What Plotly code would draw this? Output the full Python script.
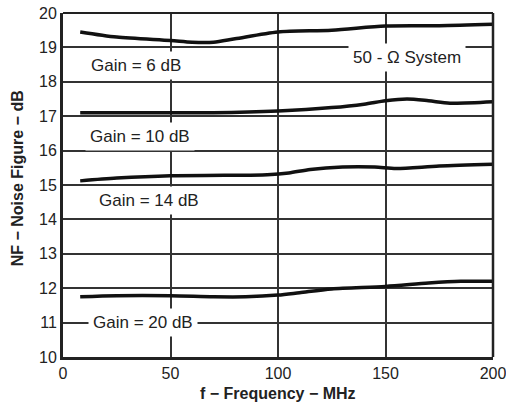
import plotly.graph_objects as go

freq_6 = [8, 25, 50, 60, 70, 80, 100, 125, 150, 175, 200]
nf_6 = [19.45, 19.3, 19.2, 19.15, 19.15, 19.25, 19.45, 19.5, 19.62, 19.63, 19.67]

freq_10 = [8, 40, 70, 100, 125, 140, 150, 160, 170, 180, 200]
nf_10 = [17.1, 17.1, 17.1, 17.15, 17.25, 17.35, 17.45, 17.5, 17.45, 17.38, 17.42]

freq_14 = [8, 25, 50, 75, 95, 105, 115, 130, 145, 155, 175, 200]
nf_14 = [15.12, 15.2, 15.27, 15.28, 15.3, 15.35, 15.45, 15.52, 15.52, 15.48, 15.55, 15.6]

freq_20 = [8, 25, 50, 70, 85, 100, 110, 125, 150, 170, 185, 200]
nf_20 = [11.75, 11.78, 11.78, 11.75, 11.75, 11.8, 11.87, 11.98, 12.05, 12.15, 12.2, 12.2]

labels = ["Gain = 6 dB", "Gain = 10 dB", "Gain = 14 dB", "Gain = 20 dB", "50 - \u03a9 System"]
label_x = [34, 36, 40, 37, 160]
label_y = [18.47, 16.42, 14.56, 11.0, 18.72]

x_ticks = [0, 50, 100, 150, 200]
y_ticks = list(range(10, 21))

x_title = "f \u2212 Frequency \u2212 MHz"
y_title = "NF \u2212 Noise Figure \u2212 dB"

font_family = "Liberation Sans, Arial, sans-serif"

fig = go.Figure()
for xs, ys in [(freq_6, nf_6), (freq_10, nf_10), (freq_14, nf_14), (freq_20, nf_20)]:
    fig.add_trace(go.Scatter(x=xs, y=ys, mode="lines",
                             line=dict(color="#111111", width=3.5, shape="spline", smoothing=0.8),
                             showlegend=False, hoverinfo="skip"))

for t, x, y in zip(labels, label_x, label_y):
    fig.add_annotation(x=x, y=y, text=t, showarrow=False, xref="x", yref="y",
                       font=dict(family=font_family, size=17, color="#222"),
                       bgcolor="white", borderpad=4)

fig.add_annotation(x=0.5, y=-0.105, xref="paper", yref="paper", text="<b>" + x_title + "</b>",
                   showarrow=False, yanchor="middle",
                   font=dict(family=font_family, size=16, color="#222"))
fig.add_annotation(x=-0.105, y=0.519, xref="paper", yref="paper", text="<b>" + y_title + "</b>",
                   showarrow=False, textangle=-90, xanchor="center", yanchor="middle",
                   font=dict(family=font_family, size=16, color="#222"))

fig.add_shape(type="line", xref="paper", yref="paper", x0=0, x1=1, y0=1, y1=1,
              line=dict(color="#222", width=2))
fig.add_shape(type="line", xref="paper", yref="paper", x0=1, x1=1, y0=0, y1=1,
              line=dict(color="#222", width=2.5))

fig.update_layout(
    width=506, height=404,
    margin=dict(l=63, r=13, t=13, b=47),
    plot_bgcolor="white", paper_bgcolor="white",
    font=dict(family=font_family, size=16, color="#222"),
    xaxis=dict(range=[0, 200], tickvals=x_ticks, showgrid=True, gridcolor="#333", gridwidth=1.5,
               showline=True, linecolor="#222", linewidth=3, zeroline=False, ticks="",
               automargin=False, tickfont=dict(size=16), ticklabeloverflow="allow"),
    yaxis=dict(range=[10, 20], tickvals=y_ticks, showgrid=True, gridcolor="#333", gridwidth=1.5,
               showline=True, linecolor="#222", linewidth=3, zeroline=False, ticks="",
               automargin=False, tickfont=dict(size=16), ticklabeloverflow="allow"),
)

# remove the page's default body margin so the 506x404 figure fills the window exactly
fig.write_html("out.html", config={"displayModeBar": False},
               post_script="document.body.style.margin='0';document.body.style.overflow='hidden';")
